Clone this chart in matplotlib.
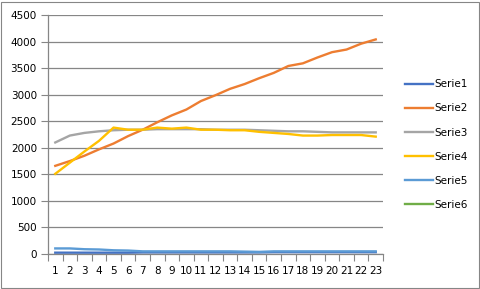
import numpy as np
import matplotlib
matplotlib.use("Agg")
import matplotlib.pyplot as plt

x = list(range(1, 24))
serie1 = [25, 25, 25, 25, 25, 25, 30, 30, 30, 30, 30, 30, 30, 30, 30, 35, 35, 35, 35, 35, 35, 35, 35]
serie2 = [1660, 1750, 1850, 1970, 2080, 2220, 2340, 2480, 2610, 2720, 2880, 2990, 3110, 3200,
          3310, 3410, 3540, 3590, 3700, 3800, 3850, 3960, 4040]
serie3 = [2100, 2230, 2280, 2310, 2330, 2340, 2340, 2350, 2350, 2350, 2350, 2340, 2340, 2340,
          2330, 2320, 2310, 2310, 2300, 2290, 2290, 2290, 2290]
serie4 = [1510, 1720, 1930, 2130, 2380, 2340, 2340, 2380, 2360, 2380, 2340, 2340, 2330, 2330,
          2300, 2280, 2260, 2230, 2230, 2240, 2240, 2240, 2210]
serie5 = [105, 105, 90, 85, 70, 65, 50, 50, 50, 50, 50, 50, 50, 45, 40, 50, 50, 50, 50, 50, 50, 50, 50]
serie6 = [np.nan] * 23

names = ["Serie1", "Serie2", "Serie3", "Serie4", "Serie5", "Serie6"]
colors = ["#4472C4", "#ED7D31", "#A5A5A5", "#FFC000", "#5B9BD5", "#70AD47"]

fig = plt.figure(figsize=(4.81, 2.89), dpi=100)
ax = fig.add_axes([48 / 481, 35 / 289, 335 / 481, 239 / 289])

for name, vals, c in zip(names, [serie1, serie2, serie3, serie4, serie5, serie6], colors):
    ax.plot(x, vals, color=c, lw=1.7, label=name)

ax.set_xlim(0.5, 23.5)
ax.set_ylim(0, 4500)
ax.set_yticks(range(0, 4501, 500))
ax.set_xticks(x)
ax.set_xticks(np.arange(0.5, 24, 1), minor=True)
ax.tick_params(axis="x", which="major", length=0, pad=9, labelsize=7.5)
ax.tick_params(axis="x", which="minor", length=5, color="#868686", width=0.8)
ax.tick_params(axis="y", length=5, color="#868686", width=0.8, labelsize=7.5, pad=3)
ax.grid(axis="y", color="#868686", lw=0.9)
ax.set_axisbelow(True)
for s in ["top", "right"]:
    ax.spines[s].set_visible(False)
for s in ["left", "bottom"]:
    ax.spines[s].set_color("#868686")
    ax.spines[s].set_linewidth(0.9)

ax.legend(loc="center left", bbox_to_anchor=(1.039, 0.458), frameon=False, fontsize=7.5,
          handlelength=2.6, handletextpad=0.2, labelspacing=1.35)

fig.patches.append(plt.Rectangle((1 / 481, 1 / 289), 478 / 481, 286 / 289, transform=fig.transFigure,
                                 fill=False, edgecolor="#868686", lw=0.8))
fig.savefig("out.png", dpi=100)
